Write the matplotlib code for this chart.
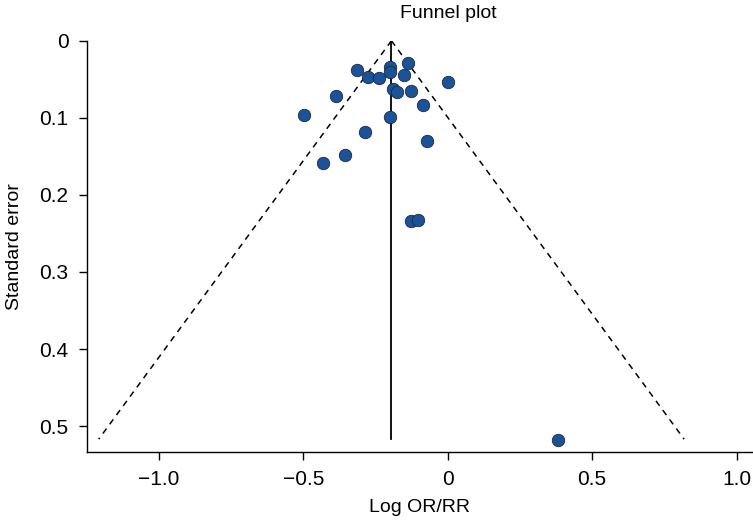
import numpy as np
import matplotlib.pyplot as plt

plt.rcParams['font.family'] = ['Liberation Sans', 'DejaVu Sans']

# study estimates
log_or = [-0.200, -0.200, -0.139, -0.315, -0.275, -0.237, -0.152, 0.000,
          -0.189, -0.175, -0.127, -0.387, -0.085, -0.497, -0.200, -0.288,
          -0.072, -0.357, -0.433, -0.127, -0.104, 0.382]
std_err = [0.034, 0.040, 0.029, 0.038, 0.047, 0.048, 0.044, 0.053,
           0.063, 0.066, 0.065, 0.072, 0.083, 0.097, 0.099, 0.119,
           0.130, 0.148, 0.158, 0.234, 0.232, 0.518]

pooled = -0.195
se_max = 0.517
xticks = [-1.0, -0.5, 0, 0.5, 1.0]
xtick_labels = ['\u22121.0', '\u22120.5', '0', '0.5', '1.0']
yticks = [0, 0.1, 0.2, 0.3, 0.4, 0.5]
ytick_labels = ['0', '0.1', '0.2', '0.3', '0.4', '0.5']

fig = plt.figure(figsize=(7.53, 5.29), dpi=100)
ax = fig.add_axes([0.1151, 0.145, 0.885, 0.778])

# funnel (95% limits) and pooled estimate
se_line = np.array([0, se_max])
ax.plot(pooled - 1.96 * se_line, se_line, ls=(0, (4, 3.5)), color='k', lw=1.1)
ax.plot(pooled + 1.96 * se_line, se_line, ls=(0, (4, 3.5)), color='k', lw=1.1)
ax.plot([pooled, pooled], [0, se_max], color='k', lw=1.3)

ax.scatter(log_or, std_err, s=80, color='#1a5399', edgecolor='#1c2a3a',
           linewidth=0.6, zorder=3)

ax.set_xlim(-1.25, 1.057)
ax.set_ylim(0.534, 0)
ax.set_xticks(xticks)
ax.set_xticklabels(xtick_labels)
ax.set_yticks(yticks)
ax.set_yticklabels(ytick_labels)
ax.tick_params(direction='out', length=6, width=1, labelsize=15, pad=7)
for s in ['top', 'right']:
    ax.spines[s].set_visible(False)
ax.spines['left'].set_linewidth(1)
ax.spines['bottom'].set_linewidth(1)

ax.set_xlabel('Log OR/RR', fontsize=14, labelpad=7)
ax.set_ylabel('Standard error', fontsize=14, labelpad=12)
fig.text(448 / 753, 1 - 14 / 529, 'Funnel plot', fontsize=14,
         ha='center', va='center')

fig.savefig('out.png', dpi=100)
